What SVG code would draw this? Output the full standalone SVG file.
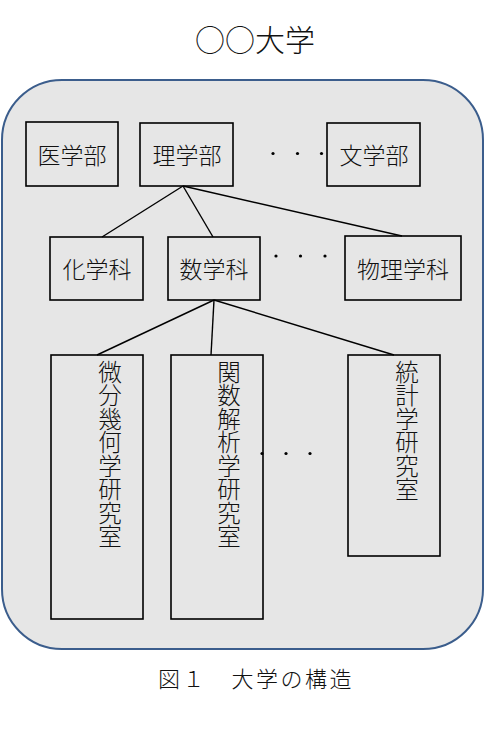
<svg xmlns="http://www.w3.org/2000/svg" width="486" height="735" viewBox="0 0 486 735">
<style>
.t{font-family:"Noto Sans CJK JP","Noto Sans CJK SC",sans-serif;font-size:23px;font-weight:300;fill:#111;}
.h{text-anchor:middle;dominant-baseline:central;}
.v{writing-mode:vertical-rl;text-anchor:start;font-size:23.5px;}
.box{fill:none;stroke:#000;stroke-width:1.6;}
.c{stroke:#000;stroke-width:1.4;fill:none;}
.dot{fill:#000;}
</style>
<rect width="486" height="735" fill="#fff"/>
<text class="t h" x="255" y="38" style="font-size:30px">○○大学</text>
<rect id="campus" x="2" y="80" width="481" height="569" rx="60" ry="60" fill="#e6e6e6" stroke="#3b5d8c" stroke-width="2"/>
<g id="connectors">
<line class="c" x1="183" y1="186" x2="102" y2="237"/>
<line class="c" x1="183" y1="186" x2="213" y2="237"/>
<line class="c" x1="183" y1="186" x2="402" y2="236"/>
<line class="c" x1="214" y1="300" x2="97" y2="355"/>
<line class="c" x1="214" y1="300" x2="211" y2="355"/>
<line class="c" x1="214" y1="300" x2="394" y2="355"/>
</g>
<g id="igakubu"><rect class="box" x="26" y="122" width="92" height="64"/><text class="t h" x="72" y="154">医学部</text></g>
<g id="rigakubu"><rect class="box" x="140" y="123" width="93" height="63"/><text class="t h" x="187" y="154">理学部</text></g>
<g id="bungakubu"><rect class="box" x="327" y="123" width="93" height="63"/><text class="t h" x="374" y="154">文学部</text></g>
<g id="dots1"><circle class="dot" cx="273" cy="153.5" r="1.6"/><circle class="dot" cx="297.5" cy="153.5" r="1.6"/><circle class="dot" cx="321.5" cy="153.5" r="1.6"/></g>
<g id="kagaku"><rect class="box" x="50" y="237" width="93" height="63"/><text class="t h" x="97" y="268">化学科</text></g>
<g id="sugaku"><rect class="box" x="168" y="237" width="92" height="63"/><text class="t h" x="214" y="268">数学科</text></g>
<g id="butsuri"><rect class="box" x="345" y="236" width="116" height="64"/><text class="t h" x="403" y="268">物理学科</text></g>
<g id="dots2"><circle class="dot" cx="276" cy="256" r="1.6"/><circle class="dot" cx="300.5" cy="256" r="1.6"/><circle class="dot" cx="325" cy="256" r="1.6"/></g>
<g id="bibun"><rect class="box" x="51" y="355" width="92" height="264"/><text class="t v" x="110" y="360">微分幾何学研究室</text></g>
<g id="kansu"><rect class="box" x="171" y="355" width="92" height="264"/><text class="t v" x="229" y="360">関数解析学研究室</text></g>
<g id="tokei"><rect class="box" x="348" y="355" width="92" height="201"/><text class="t v" x="407" y="360">統計学研究室</text></g>
<g id="dots3"><circle class="dot" cx="262" cy="453.5" r="1.6"/><circle class="dot" cx="286" cy="453.5" r="1.6"/><circle class="dot" cx="310" cy="453.5" r="1.6"/></g>
<text class="t" x="158" y="677" style="font-size:22px;dominant-baseline:central;letter-spacing:2.5px;font-family:'Noto Sans CJK JP',serif">図１　大学の構造</text>
</svg>
